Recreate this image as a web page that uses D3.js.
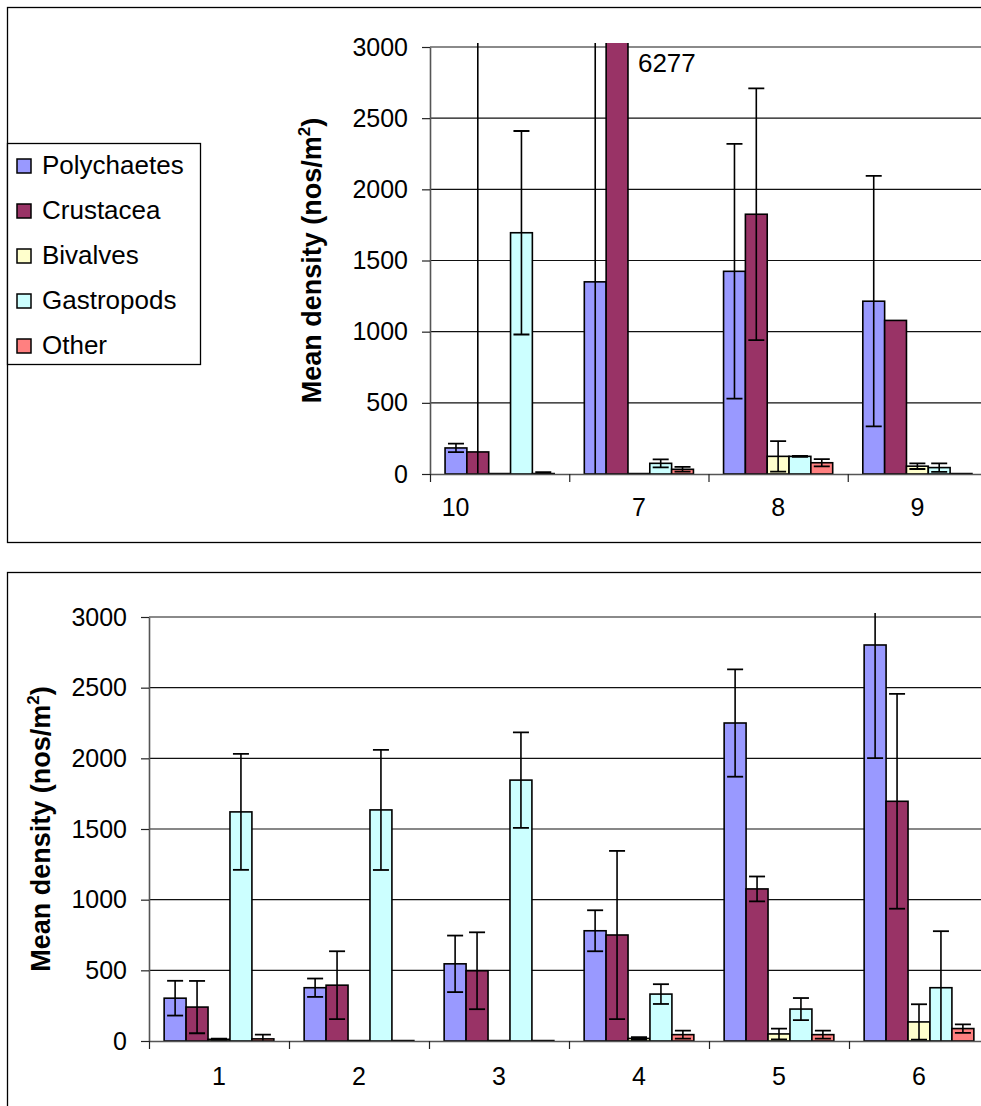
<!DOCTYPE html>
<html>
<head>
<meta charset="utf-8">
<script src="https://cdn.jsdelivr.net/npm/d3@7"></script>
<style>
body { margin: 0; background: #fff; }
svg { display: block; font-family: 'Liberation Sans', Arial, sans-serif; }
</style>
</head>
<body>
<svg id="chart" width="981" height="1106"></svg>
<script>
var seriesNames = ['Polychaetes', 'Crustacea', 'Bivalves', 'Gastropods', 'Other']
var seriesColors = ['#9999ff', '#993366', '#ffffcc', '#ccffff', '#ff8080']
var yTicks = [0, 500, 1000, 1500, 2000, 2500, 3000]

// upper panel, sites 10, 7, 8, 9
var topSites = ['10', '7', '8', '9']
var topPolychaetes = [183, 1350, 1424, 1214]
var topPolychaetesErr = [30, 2000, 895, 880]
var topCrustacea = [155, 6277, 1825, 1079]
var topCrustaceaErr = [3200, 2500, 885, 0]
var topBivalves = [3, 3, 124, 55]
var topBivalvesErr = [0, 0, 107, 20]
var topGastropods = [1695, 75, 124, 45]
var topGastropodsErr = [715, 28, 3, 30]
var topOther = [3, 33, 79, 3]
var topOtherErr = [10, 17, 25, 0]

// lower panel, sites 1 - 6
var bottomSites = ['1', '2', '3', '4', '5', '6']
var bottomPolychaetes = [303, 377, 546, 780, 2250, 2802]
var bottomPolychaetesErr = [123, 65, 200, 145, 380, 800]
var bottomCrustacea = [240, 395, 497, 750, 1076, 1696]
var bottomCrustaceaErr = [185, 240, 272, 595, 88, 760]
var bottomBivalves = [12, 3, 3, 18, 50, 135]
var bottomBivalvesErr = [4, 0, 0, 10, 38, 125]
var bottomGastropods = [1621, 1635, 1846, 332, 226, 377]
var bottomGastropodsErr = [410, 425, 338, 70, 78, 400]
var bottomOther = [15, 3, 3, 45, 45, 88]
var bottomOtherErr = [30, 0, 0, 28, 28, 30]

var svg = d3.select('#chart')

// chart frames
svg.append('rect')
    .attr('x', 7.5).attr('y', 7.5)
    .attr('width', 1000).attr('height', 535)
    .style('fill', 'none').style('stroke', '#000').style('stroke-width', 1.3)
svg.append('rect')
    .attr('x', 7.5).attr('y', 572.5)
    .attr('width', 1000).attr('height', 600)
    .style('fill', 'none').style('stroke', '#000').style('stroke-width', 1.3)

function drawPanel(cfg) {
    var g = svg.append('g')
    var y = d3.scaleLinear().domain([0, 3000]).range([cfg.bottom, cfg.top])
    var x0 = d3.scaleBand().domain(cfg.sites).range([cfg.left, cfg.left + cfg.width]).padding(0)
    var x1 = d3.scaleBand().domain(seriesNames).range([0, x0.bandwidth()])
        .paddingInner(0).paddingOuter(0.69)
    var xEdge = d3.scaleLinear().domain([0, cfg.sites.length]).range([cfg.left, cfg.left + cfg.width])

    // gridlines
    g.selectAll('.grid')
        .data(yTicks.filter(function (d) { return d > 0 && d < 3000 }))
        .enter()
        .append('line')
        .attr('x1', cfg.left).attr('x2', cfg.left + cfg.width)
        .attr('y1', function (d) { return y(d) }).attr('y2', function (d) { return y(d) })
        .style('stroke', '#111').style('stroke-width', 1.2)
    g.append('line')
        .attr('x1', cfg.left).attr('x2', cfg.left + cfg.width)
        .attr('y1', y(3000)).attr('y2', y(3000))
        .style('stroke', '#8a8a8a').style('stroke-width', 2)

    var clipId = cfg.id + 'Clip'
    g.append('clipPath').attr('id', clipId)
        .append('rect')
        .attr('x', cfg.left).attr('y', cfg.top - 4)
        .attr('width', cfg.width).attr('height', cfg.bottom - cfg.top + 4.5)

    var plot = g.append('g').attr('clip-path', 'url(#' + clipId + ')')

    seriesNames.forEach(function (name, s) {
        var rows = cfg.sites.map(function (site, i) {
            return { site: site, v: cfg.means[s][i], e: cfg.errs[s][i] }
        })
        plot.selectAll('.bar' + s)
            .data(rows)
            .enter()
            .append('rect')
            .attr('x', function (d) { return x0(d.site) + x1(name) })
            .attr('y', function (d) { return y(d.v) })
            .attr('width', x1.bandwidth())
            .attr('height', function (d) { return y(0) - y(d.v) })
            .style('fill', seriesColors[s])
            .style('stroke', '#000')
            .style('stroke-width', 1.6)

        var errRows = rows.filter(function (d) { return d.e > 0 })
        var cx = function (d) { return x0(d.site) + x1(name) + x1.bandwidth() / 2 }
        plot.selectAll('.err' + s)
            .data(errRows)
            .enter()
            .append('line')
            .attr('x1', cx).attr('x2', cx)
            .attr('y1', function (d) { return y(d.v + d.e) })
            .attr('y2', function (d) { return y(d.v - d.e) })
            .style('stroke', '#000').style('stroke-width', 1.6)
        ;[1, -1].forEach(function (sign) {
            plot.selectAll('.cap' + s + sign)
                .data(errRows)
                .enter()
                .append('line')
                .attr('x1', function (d) { return cx(d) - 8 })
                .attr('x2', function (d) { return cx(d) + 8 })
                .attr('y1', function (d) { return y(d.v + sign * d.e) })
                .attr('y2', function (d) { return y(d.v + sign * d.e) })
                .style('stroke', '#000').style('stroke-width', 1.8)
        })
    })

    // y axis
    var yAxis = g.append('g')
        .attr('transform', 'translate(' + cfg.left + ',0)')
        .call(d3.axisLeft(y).tickValues(yTicks).tickFormat(d3.format('d'))
            .tickSize(8).tickSizeOuter(0).tickPadding(14))
    yAxis.select('.domain').style('stroke', '#555').style('stroke-width', 1.6)
    yAxis.selectAll('.tick line').style('stroke', '#222').style('stroke-width', 1.2)
    yAxis.selectAll('text').style('font-size', '25px').style('fill', '#000')

    // x axis: boundary ticks, labels in the middle of each site
    var xTicks = g.append('g')
        .attr('transform', 'translate(0,' + cfg.bottom + ')')
        .call(d3.axisBottom(xEdge).tickValues(d3.range(cfg.sites.length + 1))
            .tickFormat('').tickSize(8).tickSizeOuter(0))
    xTicks.select('.domain').style('stroke', '#555').style('stroke-width', 1.6)
    xTicks.selectAll('.tick line').style('stroke', '#222').style('stroke-width', 1.2)

    var xLabels = g.append('g')
        .attr('transform', 'translate(0,' + cfg.bottom + ')')
        .call(d3.axisBottom(x0).tickSize(0).tickPadding(cfg.labelPad))
    xLabels.select('.domain').remove()
    xLabels.selectAll('text')
        .style('font-size', '25px').style('fill', '#000')
        .attr('dx', function (d, i) { return i === 0 ? cfg.firstLabelDx : 0 })

    // y title
    var title = g.append('text')
        .attr('transform', 'translate(' + cfg.titleX + ',' + ((cfg.top + cfg.bottom) / 2) + ') rotate(-90)')
        .attr('text-anchor', 'middle')
        .style('font-size', '27px')
        .style('font-weight', 'bold')
    title.append('tspan').text('Mean density (nos/m')
    title.append('tspan').attr('dy', -11).style('font-size', '17px').text('2')
    title.append('tspan').attr('dy', 11).text(')')

    if (cfg.overflow) {
        var over = cfg.overflow
        g.append('text')
            .attr('x', x0(cfg.sites[over.site]) + x1(seriesNames[over.series]) + x1.bandwidth() + 10)
            .attr('y', y(3000) + 25)
            .style('font-size', '26px')
            .text(cfg.means[over.series][over.site])
    }
}

drawPanel({
    id: 'top',
    left: 430, top: 47, bottom: 474, width: 557,
    sites: topSites,
    means: [topPolychaetes, topCrustacea, topBivalves, topGastropods, topOther],
    errs: [topPolychaetesErr, topCrustaceaErr, topBivalvesErr, topGastropodsErr, topOtherErr],
    labelPad: 24, firstLabelDx: -44, titleX: 321,
    overflow: { site: 1, series: 1 }
})

drawPanel({
    id: 'bottom',
    left: 149, top: 617, bottom: 1041, width: 840,
    sites: bottomSites,
    means: [bottomPolychaetes, bottomCrustacea, bottomBivalves, bottomGastropods, bottomOther],
    errs: [bottomPolychaetesErr, bottomCrustaceaErr, bottomBivalvesErr, bottomGastropodsErr, bottomOtherErr],
    labelPad: 26, firstLabelDx: 0, titleX: 50
})

// legend
var legend = svg.append('g')
legend.append('rect')
    .attr('x', 7.5).attr('y', 143.5)
    .attr('width', 193).attr('height', 221)
    .style('fill', '#fff').style('stroke', '#000').style('stroke-width', 1.3)
var legendY = d3.scalePoint().domain(seriesNames).range([165, 345])
var items = legend.selectAll('.item')
    .data(seriesNames)
    .enter()
    .append('g')
    .attr('transform', function (d) { return 'translate(0,' + legendY(d) + ')' })
items.append('rect')
    .attr('x', 17).attr('y', -6)
    .attr('width', 14).attr('height', 14)
    .style('fill', function (d, i) { return seriesColors[i] })
    .style('stroke', '#000').style('stroke-width', 1.5)
items.append('text')
    .attr('x', 42).attr('y', 9)
    .style('font-size', '26px')
    .text(function (d) { return d })
</script>
</body>
</html>
